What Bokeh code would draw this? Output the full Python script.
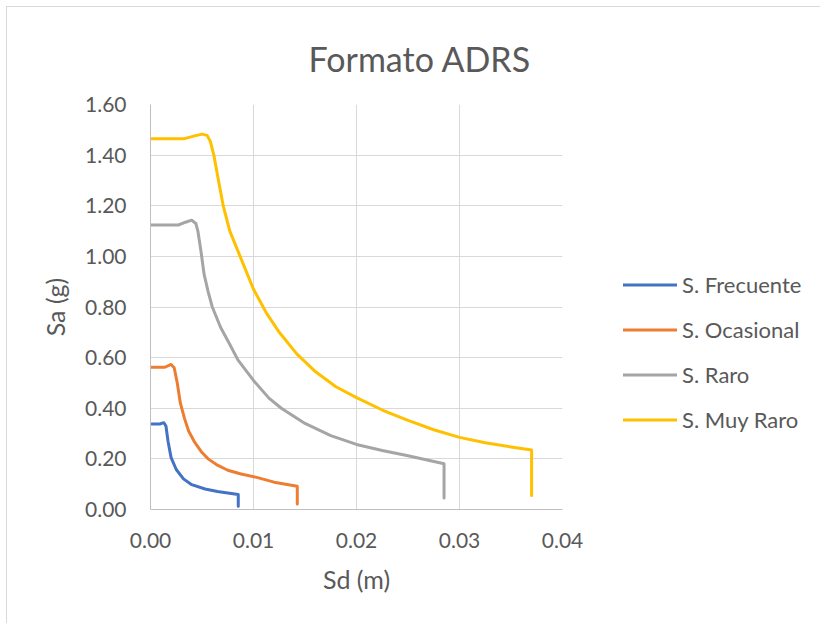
from bokeh.plotting import figure
from bokeh.models import FixedTicker, NumeralTickFormatter, Legend, LegendItem, Range1d
from bokeh.embed import file_html
from bokeh.resources import INLINE

frec_sd = [0.0, 0.0009, 0.0013, 0.0015, 0.0017, 0.0020, 0.0025, 0.0032, 0.0040, 0.0053, 0.0065, 0.0075, 0.00852, 0.00852]
frec_sa = [0.338, 0.338, 0.343, 0.33, 0.27, 0.205, 0.158, 0.121, 0.098, 0.081, 0.071, 0.065, 0.059, 0.013]

ocas_sd = [0.0, 0.0014, 0.0020, 0.0023, 0.0026, 0.0029, 0.0033, 0.0037, 0.0043, 0.0050, 0.0056, 0.0065, 0.0075, 0.0088, 0.0103, 0.0120, 0.01425, 0.01425]
ocas_sa = [0.562, 0.562, 0.573, 0.56, 0.50, 0.42, 0.36, 0.31, 0.265, 0.225, 0.20, 0.175, 0.155, 0.14, 0.127, 0.108, 0.092, 0.022]

raro_sd = [0.0, 0.0027, 0.0034, 0.0040, 0.0044, 0.0046, 0.0049, 0.0052, 0.0056, 0.0060, 0.0068, 0.0076, 0.0085, 0.0100, 0.0115, 0.0127, 0.0150, 0.0175, 0.0200, 0.0225, 0.0250, 0.0285, 0.0285]
raro_sa = [1.124, 1.124, 1.135, 1.143, 1.13, 1.10, 1.02, 0.93, 0.86, 0.80, 0.72, 0.66, 0.59, 0.51, 0.44, 0.40, 0.34, 0.292, 0.257, 0.233, 0.212, 0.181, 0.045]

muy_sd = [0.0, 0.0033, 0.0042, 0.0050, 0.0055, 0.0058, 0.00615, 0.0066, 0.00706, 0.0077, 0.0087, 0.0100, 0.0112, 0.0125, 0.0142, 0.0160, 0.0180, 0.0200, 0.0225, 0.0250, 0.0275, 0.0300, 0.0325, 0.0350, 0.0370, 0.0370]
muy_sa = [1.465, 1.465, 1.475, 1.483, 1.478, 1.455, 1.40, 1.30, 1.20, 1.10, 1.00, 0.87, 0.78, 0.70, 0.615, 0.545, 0.485, 0.442, 0.393, 0.352, 0.315, 0.285, 0.264, 0.247, 0.235, 0.055]

series_names = ["S. Frecuente", "S. Ocasional", "S. Raro", "S. Muy Raro"]
series_colors = ["#4472C4", "#ED7D31", "#A5A5A5", "#FFC000"]

x_ticks = [0.0, 0.01, 0.02, 0.03, 0.04]
y_ticks = [0.0, 0.2, 0.4, 0.6, 0.8, 1.0, 1.2, 1.4, 1.6]

FONT = "Lato"
TXT = "#595959"

p = figure(frame_width=412, frame_height=405, output_backend="svg", toolbar_location=None,
           x_range=Range1d(0, 0.04), y_range=Range1d(0, 1.6),
           min_border_left=143, min_border_right=256, min_border_top=97, min_border_bottom=114,
           title="Formato ADRS")
p.margin = (6, 0, 0, 6)
p.styles = {"border-left": "1px solid #d9d9d9", "border-top": "1px solid #d9d9d9"}
p.outline_line_color = None
p.background_fill_color = "white"
p.border_fill_color = "white"

p.title.text_font = FONT
p.title.text_font_size = "34px"
p.title.text_font_style = "normal"
p.title.text_color = TXT
p.title.align = "left"
p.title.offset = 158
p.title.standoff = 52

for ax in (p.xaxis[0], p.yaxis[0]):
    ax.major_label_text_font = FONT
    ax.major_label_text_font_size = "21px"
    ax.major_label_text_color = TXT
    ax.axis_label_text_font = FONT
    ax.axis_label_text_font_size = "25px"
    ax.axis_label_text_font_style = "normal"
    ax.axis_label_text_color = TXT
    ax.major_tick_line_color = None
    ax.minor_tick_line_color = None
    ax.axis_line_color = "#bfbfbf"
    ax.formatter = NumeralTickFormatter(format="0.00")

p.xaxis[0].ticker = FixedTicker(ticks=x_ticks)
p.yaxis[0].ticker = FixedTicker(ticks=y_ticks)
p.xaxis[0].axis_label = "Sd (m)"
p.yaxis[0].axis_label = "Sa (g)"
p.xaxis[0].major_label_standoff = 17
p.xaxis[0].axis_label_standoff = 13
p.yaxis[0].major_label_standoff = 18
p.yaxis[0].axis_label_standoff = 12

p.xgrid.ticker = FixedTicker(ticks=x_ticks)
p.ygrid.ticker = FixedTicker(ticks=y_ticks)
p.xgrid.grid_line_color = "#d9d9d9"
p.ygrid.grid_line_color = "#d9d9d9"
p.xgrid.grid_line_width = 1
p.ygrid.grid_line_width = 1

xs = [frec_sd, ocas_sd, raro_sd, muy_sd]
ys = [frec_sa, ocas_sa, raro_sa, muy_sa]
items = []
for sd, sa, name, col in zip(xs, ys, series_names, series_colors):
    r = p.line(sd, sa, line_color=col, line_width=3, line_cap="round", line_join="round")
    items.append(LegendItem(label=name, renderers=[r]))

legend = Legend(items=items, location=(61, 76))
legend.padding = 0
legend.margin = 0
legend.border_line_color = None
legend.background_fill_alpha = 0
legend.label_text_font = FONT
legend.label_text_font_size = "22px"
legend.label_text_color = TXT
legend.glyph_width = 54
legend.glyph_height = 27
legend.label_height = 27
legend.spacing = 18
legend.label_standoff = 5
p.add_layout(legend, "right")

open("out.html", "w").write(file_html(p, INLINE))
